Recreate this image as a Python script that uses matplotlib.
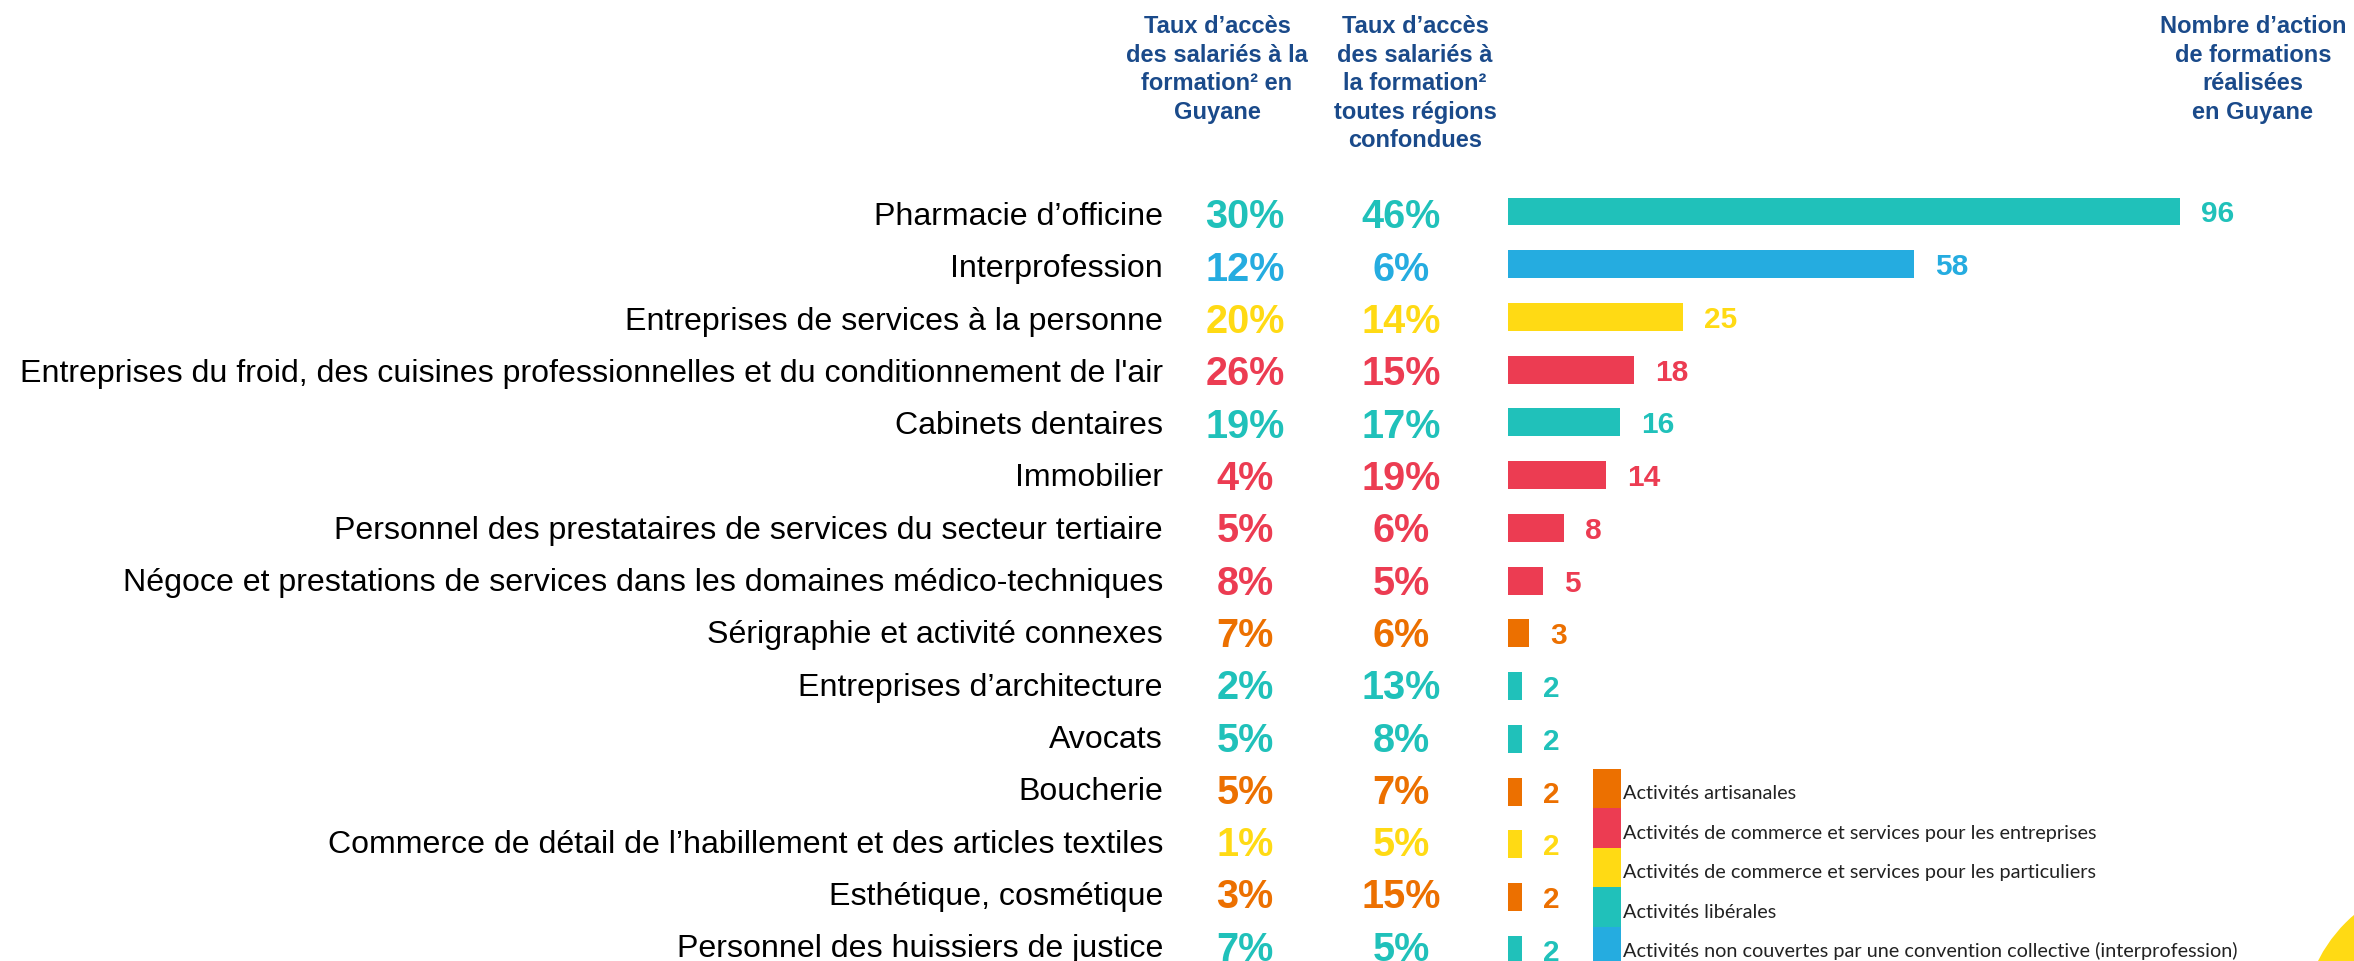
import matplotlib.pyplot as plt
from matplotlib.patches import Patch, Circle
from matplotlib.transforms import (blended_transform_factory, IdentityTransform,
                                   ScaledTranslation)

# DONNEES
categories = [
    "Pharmacie d’officine",
    "Interprofession",
    "Entreprises de services à la personne",
    "Entreprises du froid, des cuisines professionnelles et du conditionnement de l'air",
    "Cabinets dentaires",
    "Immobilier",
    "Personnel des prestataires de services du secteur tertiaire",
    "Négoce et prestations de services dans les domaines médico-techniques",
    "Sérigraphie et activité connexes",
    "Entreprises d’architecture",
    "Avocats",
    "Boucherie",
    "Commerce de détail de l’habillement et des articles textiles",
    "Esthétique, cosmétique",
    "Personnel des huissiers de justice",
]
groups = ["lib", "interpro", "part", "entr", "lib", "entr", "entr", "entr",
          "artisan", "lib", "lib", "artisan", "part", "artisan", "lib"]
taux_guyane = [30, 12, 20, 26, 19, 4, 5, 8, 7, 2, 5, 5, 1, 3, 7]
taux_toutes_regions = [46, 6, 14, 15, 17, 19, 6, 5, 6, 13, 8, 7, 5, 15, 5]
nb_actions = [96, 58, 25, 18, 16, 14, 8, 5, 3, 2, 2, 2, 2, 2, 2]

group_keys = ["artisan", "entr", "part", "lib", "interpro"]
group_labels = [
    "Activités artisanales",
    "Activités de commerce et services pour les entreprises",
    "Activités de commerce et services pour les particuliers",
    "Activités libérales",
    "Activités non couvertes par une convention collective (interprofession)",
]
group_colors = {
    "artisan": "#EC7000",
    "entr": "#EC3C52",
    "part": "#FFDA14",
    "lib": "#20C1BA",
    "interpro": "#25ACE0",
}

header_1 = ["Taux d’accès", "des salariés à la", "formation² en", "Guyane"]
header_2 = ["Taux d’accès", "des salariés à", "la formation²", "toutes régions", "confondues"]
header_3 = ["Nombre d’action", "de formations", "réalisées", "en Guyane"]

# MISE EN PAGE (pixels)
W, H = 2354, 961
px_unit = 7.0
bar_x0 = 1508
row0, step = 211.5, 52.73          # barres
text_row0, text_step = 213.5, 52.3   # colonnes de texte
navy = "#1A4A8A"

fig = plt.figure(figsize=(W / 100, H / 100), dpi=100)
ax = fig.add_axes([0, 0, 1, 1])
ax.axis("off")
ax.set_xlim(-bar_x0 / px_unit, (W - bar_x0) / px_unit)
ax.set_ylim((H - row0) / step, -row0 / step)

colors = [group_colors[g] for g in groups]
rows = list(range(len(categories)))
ax.barh(rows, nb_actions, height=0.53, color=colors)

for i, v in enumerate(nb_actions):
    ax.annotate(str(v), (v, i), xytext=(15, 0), textcoords="offset points",
                ha="left", va="center_baseline", fontsize=21.5, fontweight="bold",
                color=colors[i], family="Liberation Sans")

trans = blended_transform_factory(fig.transFigure, ax.transData)
for i, cat in enumerate(categories):
    yt = (text_row0 + text_step * i - row0) / step
    ax.text(1163 / W, yt, cat, transform=trans, ha="right",
            va="center_baseline", fontsize=23.1, color="black",
            family="Liberation Sans")
    ax.text(1245 / W, yt, f"{taux_guyane[i]}%", transform=trans,
            ha="center", va="center_baseline", fontsize=28.5, fontweight="bold",
            color=colors[i], family="Liberation Sans")
    ax.text(1401 / W, yt, f"{taux_toutes_regions[i]}%", transform=trans,
            ha="center", va="center_baseline", fontsize=28.5, fontweight="bold",
            color=colors[i], family="Liberation Sans")

# EN-TETES
for xc, lines in [(1217, header_1), (1415, header_2), (2253, header_3)]:
    for j, line in enumerate(lines):
        fig.text(xc / W, 1 - (33 + 28.5 * j) / H, line, ha="center",
                 va="baseline", fontsize=17, fontweight="bold", color=navy,
                 family="Liberation Sans")

# LEGENDE
handles = [Patch(facecolor=group_colors[k], edgecolor="none") for k in group_keys]
fs = 14.3
leg = fig.legend(handles, group_labels, loc="upper left",
                 bbox_to_anchor=(1593 / W, 1 - 769 / H), bbox_transform=fig.transFigure,
                 frameon=False, borderpad=0, borderaxespad=0, labelspacing=0,
                 handlelength=20.2 / fs, handleheight=2.68,
                 handletextpad=0.1, prop={"family": "Lato", "size": fs},
                 labelcolor="#222222")
for t in leg.get_texts():
    t.set_transform(t.get_transform() + ScaledTranslation(0, -0.045, fig.dpi_scale_trans))

# cercle jaune décoratif
fig.add_artist(Circle((2451, H - 1028), 149, transform=IdentityTransform(),
                      facecolor="#FFDA14", edgecolor="none"))

fig.savefig("out.png", dpi=100)
